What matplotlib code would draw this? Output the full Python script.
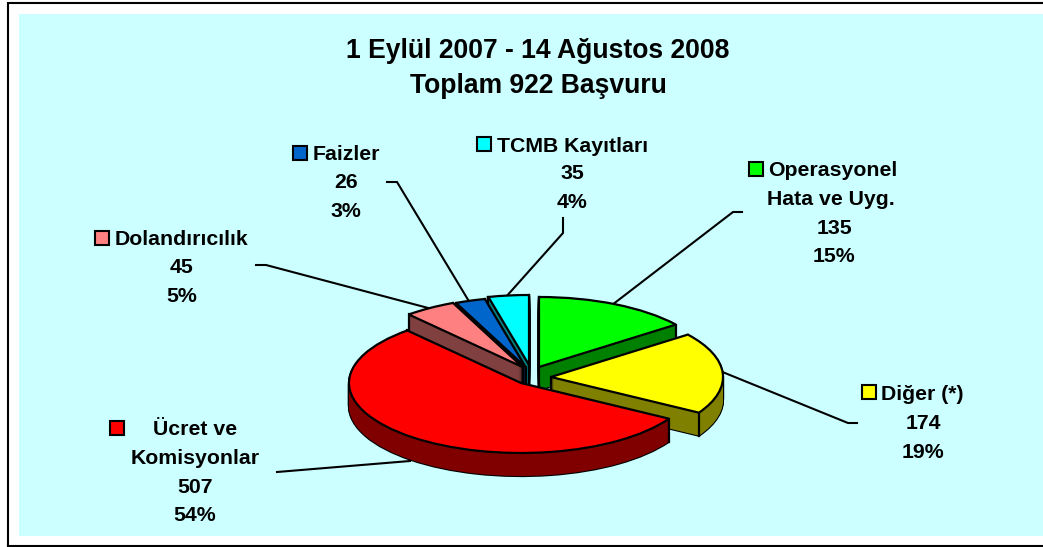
import numpy as np
import matplotlib
matplotlib.use('Agg')
import matplotlib.pyplot as plt
from matplotlib.patches import Wedge, Rectangle

plt.rcParams['font.family'] = ['Liberation Sans', 'DejaVu Sans']

W, H = 1043, 547

# Data, clockwise from 12 o'clock
categories = ['Operasyonel Hata ve Uyg.', 'Diğer (*)', 'Ücret ve Komisyonlar',
              'Dolandırıcılık', 'Faizler', 'TCMB Kayıtları']
values = [135, 174, 507, 45, 26, 35]
percent_labels = ['15%', '19%', '54%', '5%', '3%', '4%']
title_lines = ['1 Eylül 2007 - 14 Ağustos 2008', 'Toplam 922 Başvuru']

top_colors = ['#00FF00', '#FFFF00', '#FF0000', '#FF8080', '#0066CC', '#00FFFF']
side_colors = ['#008000', '#808000', '#800000', '#804040', '#003366', '#008080']

# pie geometry in pixels
CX, CY = 530, 377
RX, RY = 172, 70
DEPTH = 23
# how far each slice is pulled out of the centre (px, px down)
explode_px = [(9, -10), (21, 0), (-9, 6), (-7.5, -10), (-4.5, -10), (-1, -12)]
draw_order = [5, 4, 3, 0, 1, 2]
LW = 1.6

fig = plt.figure(figsize=(W / 100, H / 100), dpi=100, facecolor='white')

# background axes: pixel coords, y down
bg = fig.add_axes([0, 0, 1, 1], zorder=0)
bg.set_xlim(0, W)
bg.set_ylim(H, 0)
bg.axis('off')
bg.add_patch(Rectangle((19, 14), W - 19, 522, fc='#CCFFFF', ec='none'))
bg.plot([8, 8, W], [H - 1, 3, 3], color='black', lw=1.5, solid_joinstyle='miter')
bg.plot([8, W], [546, 546], color='black', lw=1.5)

# leader lines
leaders = [
    ([742, 733, 612], [212, 212, 305]),
    ([857, 848, 720], [423, 423, 371]),
    ([277, 410], [472, 461]),
    ([256, 266, 432], [265, 265, 309]),
    ([387, 397, 470], [182, 182, 303]),
    ([563, 563, 505], [218, 233, 298]),
]
for xs, ys in leaders:
    bg.plot(xs, ys, color='black', lw=1.5, solid_joinstyle='miter')

# title
for line, y in zip(title_lines, [58, 93]):
    bg.text(538, y, line, ha='center', va='baseline', fontsize=19.1, fontweight='bold')

# labels
FS = 15.3
def label(x, y, s, ha='center'):
    bg.text(x, y, s, ha=ha, va='baseline', fontsize=FS, fontweight='bold')

def key(x, y, color):
    bg.add_patch(Rectangle((x, y), 14, 14, fc=color, ec='black', lw=1.5))

key(749, 162, top_colors[0])
label(768, 176, 'Operasyonel', ha='left')
label(831, 205, 'Hata ve Uyg.')
label(834, 234, str(values[0]))
label(834, 262, percent_labels[0])

key(862, 385, top_colors[1])
label(881, 400, categories[1], ha='left')
label(923, 429, str(values[1]))
label(923, 458, percent_labels[1])

key(110, 421, top_colors[2])
label(195, 435, 'Ücret ve')
label(195, 464, 'Komisyonlar')
label(195, 493, str(values[2]))
label(195, 521, percent_labels[2])

key(95, 231, top_colors[3])
label(115, 245, categories[3], ha='left')
label(182, 273, str(values[3]))
label(182, 302, percent_labels[3])

key(293, 146, top_colors[4])
label(313, 160, categories[4], ha='left')
label(346, 188, str(values[4]))
label(346, 217, percent_labels[4])

key(477, 137, top_colors[5])
label(497, 152, categories[5], ha='left')
label(572, 179, str(values[5]))
label(572, 208, percent_labels[5])

# pie axes: unit ellipse, y up, squashed by the axis limits
ax = fig.add_axes([0, 0, 1, 1], zorder=1)
ax.patch.set_alpha(0)
ax.axis('off')
ax.set_xlim(-CX / RX, (W - CX) / RX)
ax.set_ylim(-(H - CY) / RY, CY / RY)

fracs = np.array(values) / sum(values) * 360
ends = np.cumsum(fracs)
starts = ends - fracs

z = 1
for i in draw_order:
    # clockwise from the top -> matplotlib angles
    t1, t2 = 90 - ends[i], 90 - starts[i]
    x0 = explode_px[i][0] / RX
    y0 = -explode_px[i][1] / RY
    layers = np.arange(DEPTH, 0, -1) / RY

    # black silhouette of the side wall, then its fill on top
    for d in layers:
        ax.add_patch(Wedge((x0, y0 - d), 1, t1, t2, fc='black', ec='black', lw=LW, zorder=z))
    z += 1
    for d in layers:
        ax.add_patch(Wedge((x0, y0 - d), 1, t1, t2, fc=side_colors[i], ec='none', zorder=z))
    z += 1
    # vertical edges at the corners
    corners = [(x0, y0)]
    for t in (t1, t2):
        corners.append((x0 + np.cos(np.radians(t)), y0 + np.sin(np.radians(t))))
    for cx, cy in corners:
        ax.plot([cx, cx], [cy, cy - DEPTH / RY], color='black', lw=LW, zorder=z)
    z += 1
    ax.add_patch(Wedge((x0, y0), 1, t1, t2, fc=top_colors[i], ec='black', lw=LW, zorder=z))
    z += 1

fig.savefig('out.png', dpi=100)
